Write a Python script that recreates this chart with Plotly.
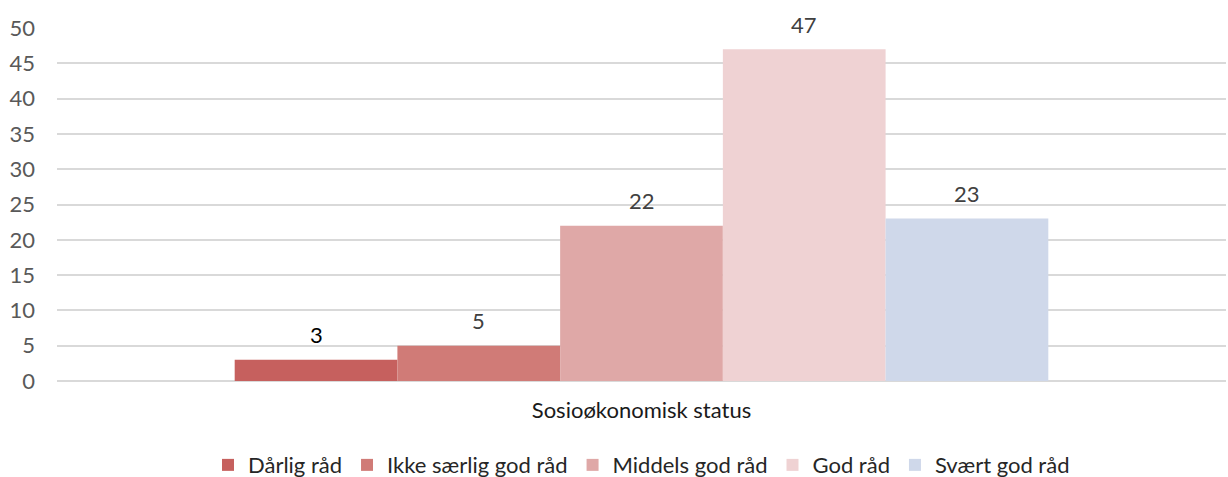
import plotly.graph_objects as go

category = ["Sosioøkonomisk status"]
series_names = ["Dårlig råd", "Ikke særlig god råd", "Middels god råd", "God råd", "Svært god råd"]
values = [3, 5, 22, 47, 23]
colors = ["#C6605E", "#D07B77", "#DFA8A7", "#EFD2D3", "#CFD8EA"]
label_colors = ["#000000", "#404040", "#404040", "#404040", "#404040"]
y_ticks = list(range(0, 55, 5))

BARGAP = 0.304
FONT = "Lato"

fig = go.Figure()
for name, v, c in zip(series_names, values, colors):
    fig.add_trace(go.Bar(
        name=name, x=category, y=[v], marker=dict(color=c, line=dict(width=0)),
    ))

# data labels above each bar, positioned from the grouping parameters
n = len(values)
w = (1 - BARGAP) / n
for i, (v, lc) in enumerate(zip(values, label_colors)):
    fig.add_annotation(
        x=(i - (n - 1) / 2) * w, y=v, xref="x", yref="y",
        text=str(v), showarrow=False, yanchor="middle", yshift=25,
        font=dict(family=FONT, size=22, color=lc),
    )

fig.update_layout(
    width=1228, height=477,
    margin=dict(l=57, r=2, t=28, b=96),
    paper_bgcolor="white", plot_bgcolor="white",
    barmode="group", bargap=BARGAP, bargroupgap=0,
    font=dict(family=FONT, size=22, color="#595959"),
    showlegend=True,
    legend=dict(orientation="h", x=0.5, xanchor="center", yref="container", y=0.025,
                yanchor="middle",
                font=dict(family=FONT, size=22, color="#262626"), itemwidth=30,
                traceorder="normal"),
    xaxis=dict(showgrid=False, showline=False, ticks="", automargin=False,
               range=[-0.5, 0.5], ticklabelstandoff=14,
               tickfont=dict(family=FONT, size=22, color="#1a1a1a")),
    yaxis=dict(range=[0, 50], tickvals=y_ticks, showgrid=True, gridcolor="#D9D9D9",
               gridwidth=1.5, zeroline=True, zerolinecolor="#D9D9D9", zerolinewidth=1.5,
               ticks="", automargin=False,
               tickfont=dict(family=FONT, size=22, color="#595959"),
               ticklabelstandoff=21),
)

fig.write_html("out.html", config={"displayModeBar": False},
               post_script="document.body.style.margin='0px';")
